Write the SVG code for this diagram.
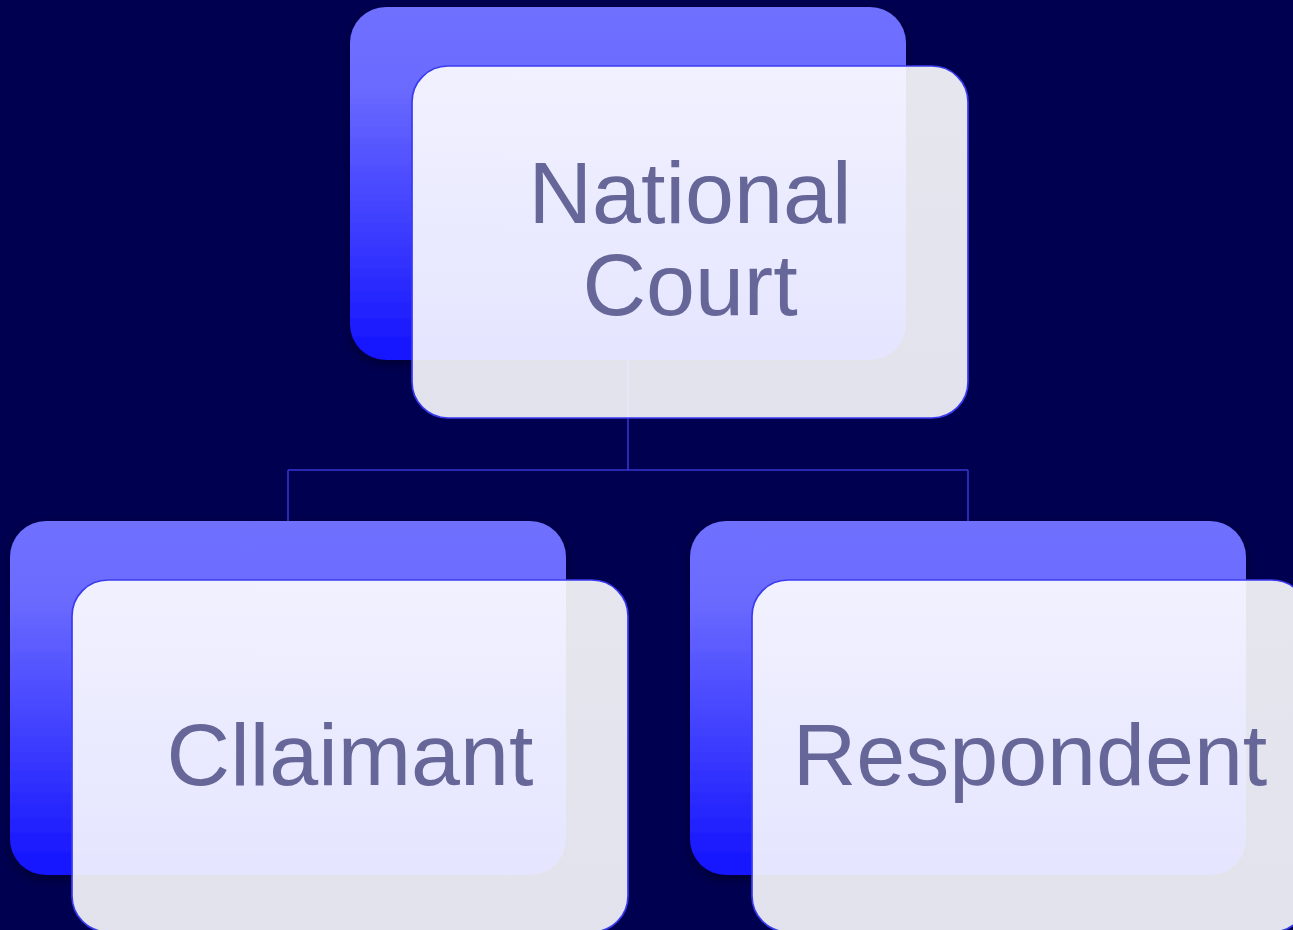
<svg xmlns="http://www.w3.org/2000/svg" width="1293" height="930" viewBox="0 0 1293 930">
<defs>
<linearGradient id="backGrad" x1="0" y1="0" x2="0" y2="1">
<stop offset="0" stop-color="#6f6fff"/>
<stop offset="0.22" stop-color="#6b6bff"/>
<stop offset="1" stop-color="#1212ff"/>
</linearGradient>
<linearGradient id="frontGrad" x1="0" y1="0" x2="0" y2="1">
<stop offset="0" stop-color="#ffffff"/>
<stop offset="1" stop-color="#fbfbff"/>
</linearGradient>
<filter id="shadow" x="-10%" y="-10%" width="120%" height="125%">
<feDropShadow dx="0" dy="4" stdDeviation="4" flood-color="#000020" flood-opacity="0.6"/>
</filter>
</defs>
<style>
.back{fill:url(#backGrad);filter:url(#shadow);}
.front{fill:url(#frontGrad);fill-opacity:0.9;stroke:#3a3af0;stroke-width:1.7;}
.conn{fill:none;stroke:#3434d0;stroke-width:1.6;}
.label{font-family:"Liberation Sans",Arial,sans-serif;font-size:88px;fill:#666699;text-anchor:middle;}
</style>
<rect width="1293" height="930" fill="#000050"/>
<g id="node-national-court-back">
<rect class="back" x="350" y="7" width="556" height="353" rx="36" ry="36"/>
</g>
<g id="node-claimant-back">
<rect class="back" x="10" y="521" width="556" height="354" rx="36" ry="36"/>
</g>
<g id="node-respondent-back">
<rect class="back" x="690" y="521" width="556" height="354" rx="36" ry="36"/>
</g>
<g id="connectors">
<path class="conn" d="M628 360 V470 M288 470 H968 M288 470 V521 M968 470 V521"/>
</g>
<g id="node-national-court">
<rect class="front" x="412" y="66" width="556" height="352" rx="36" ry="36"/>
<text class="label" x="690" y="223">National</text>
<text class="label" x="690" y="315">Court</text>
</g>
<g id="node-claimant">
<rect class="front" x="72" y="580" width="556" height="352" rx="36" ry="36"/>
<text class="label" x="350" y="785">Cllaimant</text>
</g>
<g id="node-respondent">
<rect class="front" x="752" y="580" width="556" height="352" rx="36" ry="36"/>
<text class="label" x="1030" y="785">Respondent</text>
</g>
</svg>
